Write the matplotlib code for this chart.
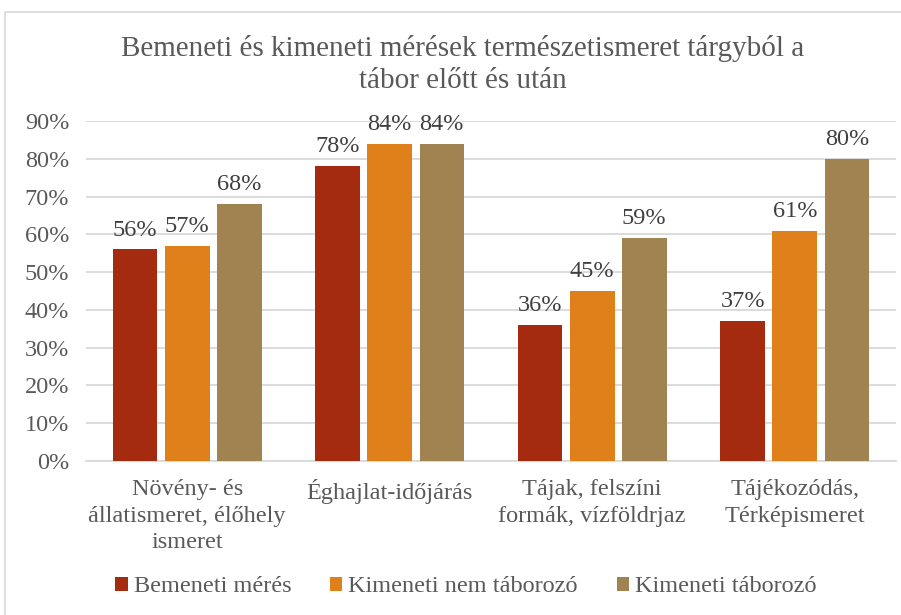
import matplotlib
matplotlib.use("Agg")
import matplotlib.pyplot as plt
import numpy as np
from matplotlib.patches import Rectangle

categories = ["Növény- és\nállatismeret, élőhely\nismeret", "Éghajlat-időjárás",
              "Tájak, felszíni\nformák, vízföldrjaz", "Tájékozódás,\nTérképismeret"]
series_names = ["Bemeneti mérés", "Kimeneti nem táborozó", "Kimeneti táborozó"]
bemeneti = [56, 78, 36, 37]
kimeneti_nem = [57, 84, 45, 61]
kimeneti_tab = [68, 84, 59, 80]
colors = ["#A52B10", "#E0801B", "#A08350"]
yticks = [0, 10, 20, 30, 40, 50, 60, 70, 80, 90]

plt.rcParams['font.family'] = ['Liberation Serif', 'DejaVu Serif']
txt = "#595959"
fs = 17.5

fig = plt.figure(figsize=(9.01, 6.15), dpi=100)
fig.patches.append(Rectangle((5/901, -0.1), 1.2, 1 - 12/615 + 0.1, transform=fig.transFigure,
                             fill=False, edgecolor="#D9D9D9", linewidth=1.2, zorder=0))
ax = fig.add_axes([86/901, 1 - 461/615, (896 - 86)/901, (461 - 121)/615])

x = np.arange(len(categories))
w = 0.22
step = 0.257
for i, (vals, name) in enumerate(zip([bemeneti, kimeneti_nem, kimeneti_tab], series_names)):
    bars = ax.bar(x + (i - 1) * step, vals, w, color=colors[i], label=name, zorder=3)
    for b, v in zip(bars, vals):
        ax.annotate(f"{v}%", (b.get_x() + b.get_width() / 2, v), xytext=(0, 10),
                    textcoords="offset points", ha="center", va="baseline",
                    fontsize=fs, color="#404040", zorder=4)

ax.set_ylim(0, 90)
ax.set_xlim(-0.5, len(categories) - 0.5)
ax.set_yticks(yticks)
ax.set_yticklabels([f"{t}%" for t in yticks], fontsize=fs, color=txt)
ax.set_xticks(x)
ax.set_xticklabels(categories, fontsize=fs, color=txt, linespacing=1.35)
ax.tick_params(axis="both", length=0)
ax.tick_params(axis="x", pad=13)
ax.tick_params(axis="y", pad=12)
ax.grid(axis="y", color="#D9D9D9", linewidth=1.3, zorder=0)
for s in ["top", "right", "left"]:
    ax.spines[s].set_visible(False)
ax.spines["bottom"].set_color("#D9D9D9")
ax.spines["bottom"].set_linewidth(1.3)

fig.text(463/901, 1 - 64/615, "Bemeneti és kimeneti mérések természetismeret tárgyból a\ntábor előtt és után",
         ha="center", va="center", fontsize=21, color=txt, linespacing=1.3)

fig.legend(loc="center", bbox_to_anchor=(466/901, 1 - 587/615), ncol=3, frameon=False,
           fontsize=fs, handlelength=0.5, handleheight=0.5, handletextpad=0.25,
           columnspacing=1.6, labelcolor=txt)

fig.savefig("out.png", dpi=100)
